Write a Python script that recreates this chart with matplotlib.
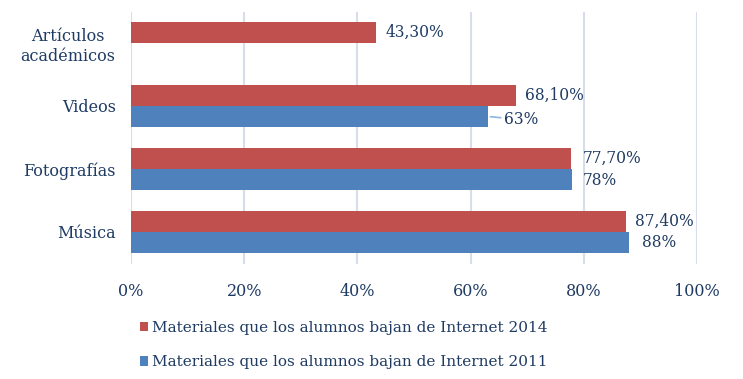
import numpy as np
import matplotlib.pyplot as plt

# Data
categorias = ["Artículos\nacadémicos", "Videos", "Fotografías", "Música"]
valores_2014 = [43.3, 68.1, 77.7, 87.4]
valores_2011 = [np.nan, 63, 78, 88]
etiquetas_2014 = ["43,30%", "68,10%", "77,70%", "87,40%"]
etiquetas_2011 = ["", "63%", "78%", "88%"]
serie_2014 = "Materiales que los alumnos bajan de Internet 2014"
serie_2011 = "Materiales que los alumnos bajan de Internet 2011"
ticks_x = [0, 20, 40, 60, 80, 100]

rojo = "#C0504D"
azul = "#4F81BD"
texto = "#1F3B63"
rejilla = "#D5DEEA"

plt.rcParams['font.family'] = ['DejaVu Serif']

fig = plt.figure(figsize=(7.43, 3.79), dpi=100)
ax = fig.add_axes([131 / 743, 1 - 263.5 / 379, 566 / 743, 252 / 379])

y = np.arange(len(categorias))
h = 0.333
ax.barh(y - h / 2, valores_2014, height=h, color=rojo, label=serie_2014)
ax.barh(y + h / 2, valores_2011, height=h, color=azul, label=serie_2011)

ax.set_xlim(0, 100)
ax.set_ylim(len(categorias) - 0.5, -0.5)
ax.set_xticks(ticks_x)
ax.set_xticklabels([f"{t}%" for t in ticks_x])
ax.set_yticks(y)
ax.set_yticklabels(categorias, ha="right", multialignment="center",
                   linespacing=1.2)
ax.tick_params(axis="y", length=0, pad=11, colors=texto, labelsize=11.5)
ax.tick_params(axis="x", length=0, pad=14, colors=texto, labelsize=11.5)
ax.grid(axis="x", color=rejilla, linewidth=1.5)
ax.set_axisbelow(True)
for s in ax.spines.values():
    s.set_visible(False)

# data labels
desp_2014 = [9, 9, 12, 9]
desp_2011 = [0, 16, 10, 13]
baja_2011 = [0, 3, 1, 0]
for i in range(len(categorias)):
    ax.annotate(etiquetas_2014[i], (valores_2014[i], y[i] - h / 2),
                xytext=(desp_2014[i] * 0.72, 0), textcoords="offset points",
                va="center", ha="left", color=texto, fontsize=11.2)
    if etiquetas_2011[i]:
        flecha = dict(arrowstyle="-", color="#8EB4E3", lw=1.2,
                      shrinkA=0, shrinkB=2) if i == 1 else None
        ax.annotate(etiquetas_2011[i], (valores_2011[i], y[i] + h / 2),
                    xytext=(desp_2011[i] * 0.72, -baja_2011[i] * 0.72),
                    textcoords="offset points", va="center", ha="left",
                    color=texto, fontsize=11.2, arrowprops=flecha)

fig.legend(loc="upper left", bbox_to_anchor=(126 / 743, 1 - 307 / 379),
           frameon=False, ncol=1, handlelength=0.55, handleheight=0.55,
           handletextpad=0.25, labelspacing=1.35, fontsize=11,
           labelcolor=texto)

fig.savefig("out.png", dpi=100)
